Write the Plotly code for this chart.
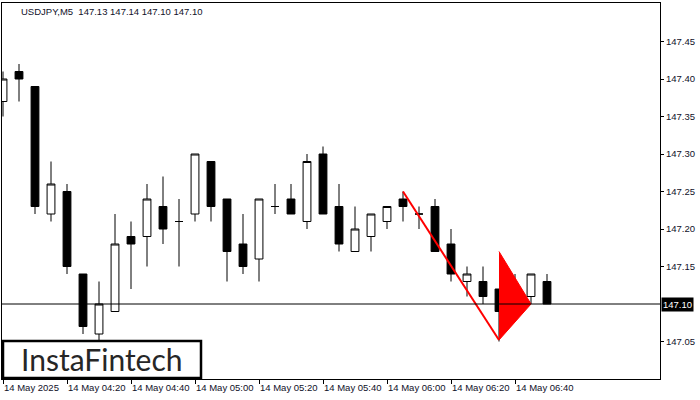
import plotly.graph_objects as go
from datetime import datetime, timedelta

# ---- data ----
times = ["04:00", "04:05", "04:10", "04:15", "04:20", "04:25", "04:30", "04:35", "04:40", "04:45",
         "04:50", "04:55", "05:00", "05:05", "05:10", "05:15", "05:20", "05:25", "05:30", "05:35",
         "05:40", "05:45", "05:50", "05:55", "06:00", "06:05", "06:10", "06:15", "06:20", "06:25",
         "06:30", "06:35", "06:40", "06:45", "06:50"]
opens = [147.37, 147.41, 147.39, 147.22, 147.25, 147.14, 147.06, 147.09, 147.19, 147.19,
         147.23, 147.21, 147.22, 147.29, 147.24, 147.18, 147.16, 147.23, 147.24, 147.21,
         147.30, 147.23, 147.17, 147.19, 147.21, 147.24, 147.22, 147.23, 147.18, 147.13,
         147.13, 147.12, 147.10, 147.11, 147.13]
highs = [147.41, 147.42, 147.39, 147.29, 147.26, 147.14, 147.13, 147.22, 147.21, 147.26,
         147.27, 147.24, 147.30, 147.29, 147.24, 147.22, 147.24, 147.26, 147.26, 147.30,
         147.31, 147.26, 147.23, 147.22, 147.23, 147.25, 147.23, 147.24, 147.20, 147.15,
         147.15, 147.12, 147.14, 147.14, 147.14]
lows = [147.35, 147.37, 147.22, 147.21, 147.14, 147.06, 147.05, 147.09, 147.12, 147.15,
        147.18, 147.15, 147.21, 147.21, 147.13, 147.14, 147.13, 147.22, 147.22, 147.20,
        147.22, 147.17, 147.17, 147.17, 147.20, 147.21, 147.20, 147.17, 147.13, 147.11,
        147.10, 147.05, 147.08, 147.10, 147.10]
closes = [147.40, 147.40, 147.23, 147.26, 147.15, 147.07, 147.10, 147.18, 147.18, 147.24,
          147.20, 147.21, 147.30, 147.23, 147.17, 147.15, 147.24, 147.23, 147.22, 147.29,
          147.22, 147.18, 147.20, 147.22, 147.23, 147.23, 147.22, 147.17, 147.14, 147.14,
          147.11, 147.09, 147.12, 147.14, 147.10]

pole_times = ["06:05", "06:35"]
pole_prices = [147.25, 147.052]
flag_times = ["06:35", "06:45", "06:35"]
flag_prices = [147.17, 147.10, 147.052]

x_tick_times = ["04:00", "04:20", "04:40", "05:00", "05:20", "05:40", "06:00", "06:20", "06:40"]
x_tick_labels = ["14 May 2025", "14 May 04:20", "14 May 04:40", "14 May 05:00", "14 May 05:20",
                 "14 May 05:40", "14 May 06:00", "14 May 06:20", "14 May 06:40"]
y_tick_vals = [147.05, 147.15, 147.20, 147.25, 147.30, 147.35, 147.40, 147.45]
y_tick_labels = ["147.05", "147.15", "147.20", "147.25", "147.30", "147.35", "147.40", "147.45"]
last_price = 147.10
title_text = "USDJPY,M5  147.13 147.14 147.10 147.10"
logo_text = "InstaFintech"

DAY = "2025-05-14 "


def ts(t):
    return DAY + t + ":00"


x = [ts(t) for t in times]

FONT = "Liberation Sans"
TXT = "#101028"

fig = go.Figure()

# pennant flag (background)
fig.add_trace(go.Scatter(
    x=[ts(t) for t in flag_times], y=flag_prices, mode="lines", fill="toself",
    fillcolor="#ff0000", line=dict(color="#ff0000", width=1), hoverinfo="skip",
    showlegend=False))

fig.add_trace(go.Candlestick(
    x=x, open=opens, high=highs, low=lows, close=closes,
    increasing=dict(fillcolor="#ffffff", line=dict(color="#000000", width=1)),
    decreasing=dict(fillcolor="#000000", line=dict(color="#000000", width=1)),
    whiskerwidth=0, showlegend=False))

# pennant pole
fig.add_trace(go.Scatter(
    x=[ts(t) for t in pole_times], y=pole_prices, mode="lines",
    line=dict(color="#ff0000", width=2), hoverinfo="skip", showlegend=False))

start = datetime(2025, 5, 14, 4, 0, 0) - timedelta(seconds=18.75)
end = start + timedelta(seconds=658 * 18.75)

fig.update_layout(
    width=700, height=400,
    margin=dict(l=2, r=40, t=3, b=21, autoexpand=False),
    paper_bgcolor="#ffffff", plot_bgcolor="#ffffff",
    showlegend=False,
    boxgap=0.3,
    font=dict(family=FONT, size=9.5, color=TXT),
)

fig.update_xaxes(
    type="date",
    range=[start.strftime("%Y-%m-%d %H:%M:%S.%f"), end.strftime("%Y-%m-%d %H:%M:%S.%f")],
    rangeslider=dict(visible=False),
    tickmode="array", tickvals=[ts(t) for t in x_tick_times], ticktext=x_tick_labels,
    ticks="outside", ticklen=4, tickcolor="#000000", tickwidth=1,
    ticklabelposition="outside right", tickangle=0, automargin=False,
    showline=True, linecolor="#000000", linewidth=1, mirror=True,
    showgrid=False, zeroline=False,
    tickfont=dict(family=FONT, size=9.5, color=TXT),
)

fig.update_yaxes(
    side="right",
    range=[147.0, 147.50133],
    tickmode="array", tickvals=y_tick_vals, ticktext=y_tick_labels,
    ticks="outside", ticklen=3, tickcolor="#000000", tickwidth=1, automargin=False,
    showline=True, linecolor="#000000", linewidth=1, mirror=True,
    showgrid=False, zeroline=False,
    tickfont=dict(family=FONT, size=9.5, color=TXT),
)

# last price line
fig.add_shape(type="line", xref="paper", x0=0, x1=1, yref="y", y0=last_price, y1=last_price,
              line=dict(color="#000000", width=1), layer="above")

# last price label
fig.add_annotation(xref="paper", x=1, xanchor="left", xshift=1, yref="y", y=last_price,
                   yanchor="middle", text=f"{last_price:.2f}", showarrow=False,
                   bgcolor="#000000", borderpad=1,
                   font=dict(family=FONT, size=9.5, color="#ffffff"))

# title
fig.add_annotation(xref="paper", x=(19 - 2) / 658, xanchor="left", yref="paper", y=(379 - 11) / 376,
                   yanchor="middle", text=title_text, showarrow=False,
                   font=dict(family=FONT, size=9.5, color=TXT))

# logo box
fig.add_shape(type="rect", xref="paper", yref="paper",
              x0=(3 - 2) / 658, x1=(201 - 2) / 658, y0=(379 - 378) / 376, y1=(379 - 341) / 376,
              fillcolor="#ffffff", line=dict(color="#000000", width=2.5), layer="above")
fig.add_annotation(xref="paper", x=(102 - 2) / 658, xanchor="center", yref="paper",
                   y=(379 - 359) / 376, yanchor="middle", text=logo_text, showarrow=False,
                   font=dict(family="Lato", size=30, color="#262626", weight="normal"))

fig.write_html("out.html", config={"displayModeBar": False},
               post_script="document.body.style.margin='0';document.body.style.padding='0';")
